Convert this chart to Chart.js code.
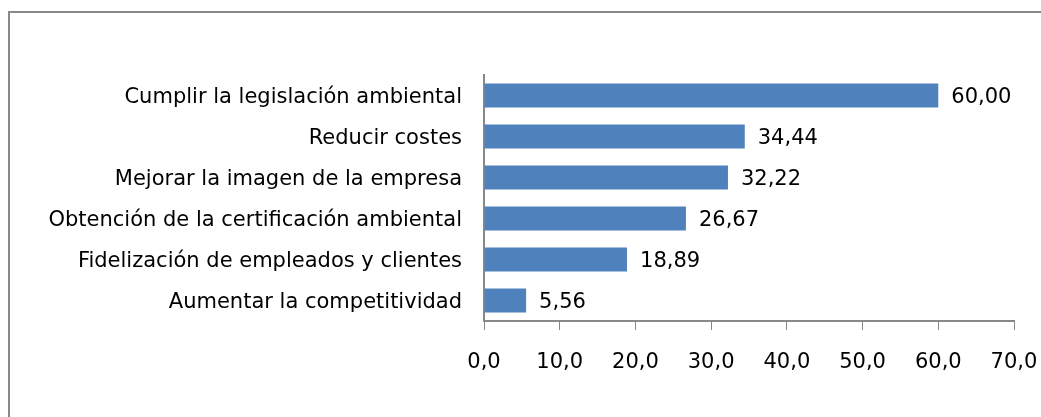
<!DOCTYPE html>
<html>
  <head>
    <title>Motivos</title>
    <script src="https://cdn.jsdelivr.net/npm/chart.js"></script>
    <style>
      body { margin: 0; background: #fff; overflow: hidden; }
      .frame {
        position: absolute;
        left: 8px; top: 11px;
        width: 1100px; height: 500px;
        border: 2px solid #888;
      }
      #wrap { position: absolute; left: 0; top: 0; width: 1041px; height: 417px; }
    </style>
  </head>
  <body>
    <div class="frame"></div>
    <div id="wrap"><canvas id="barChart"></canvas></div>
    <script>
      const categories = [
        "Cumplir la legislación ambiental",
        "Reducir costes",
        "Mejorar la imagen de la empresa",
        "Obtención de la certificación ambiental",
        "Fidelización de empleados y clientes",
        "Aumentar la competitividad"
      ];
      const values = [60.00, 34.44, 32.22, 26.67, 18.89, 5.56];
      const xTicks = [0, 10, 20, 30, 40, 50, 60, 70];

      const fontFam = "'DejaVu Sans', sans-serif";

      const valueLabels = {
        id: "valueLabels",
        afterDatasetsDraw(chart) {
          const ctx = chart.ctx;
          const meta = chart.getDatasetMeta(0);
          ctx.save();
          ctx.font = "21px " + fontFam;
          ctx.fillStyle = "#000";
          ctx.textBaseline = "middle";
          ctx.textAlign = "left";
          meta.data.forEach((bar, i) => {
            ctx.fillText(values[i].toFixed(2).replace(".", ","), bar.x + 13, bar.y + 2);
          });
          ctx.restore();
        }
      };

      new Chart(document.getElementById("barChart"), {
        type: "bar",
        data: {
          labels: categories,
          datasets: [{
            data: values,
            backgroundColor: "#4F81BD",
            barPercentage: 0.59,
            categoryPercentage: 1
          }]
        },
        options: {
          indexAxis: "y",
          responsive: true,
          maintainAspectRatio: false,
          animation: false,
          layout: { padding: { top: 75, right: 27, left: 0, bottom: 0 } },
          plugins: { legend: { display: false }, tooltip: { enabled: false } },
          scales: {
            x: {
              min: 0, max: 70,
              afterBuildTicks(scale) { scale.ticks = xTicks.map(v => ({ value: v })); },
              afterFit(scale) { scale.height = 96; scale.paddingRight = 0; scale.paddingLeft = 0; },
              grid: { drawOnChartArea: false, drawTicks: true, tickLength: 9, color: "#888" },
              border: { display: true, color: "#888", width: 2 },
              ticks: {
                color: "#000",
                padding: 20,
                font: { size: 21, family: fontFam },
                callback: v => v.toFixed(1).replace(".", ",")
              }
            },
            y: {
              afterFit(scale) { scale.width = 484; },
              grid: { display: false },
              border: { display: true, color: "#888", width: 2 },
              ticks: {
                color: "#000",
                padding: 14,
                labelOffset: 2,
                font: { size: 21, family: fontFam }
              }
            }
          }
        },
        plugins: [valueLabels]
      });
    </script>
  </body>
</html>
